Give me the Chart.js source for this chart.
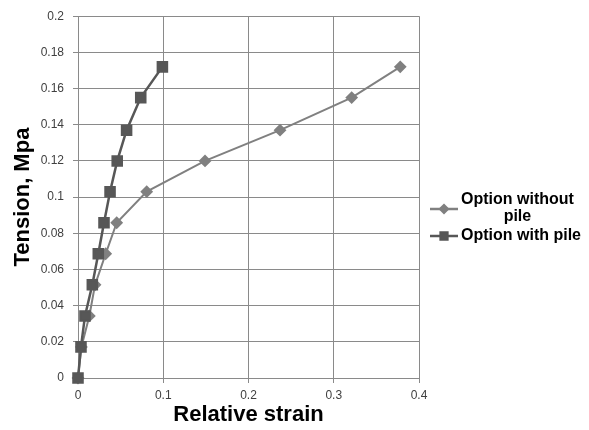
<!DOCTYPE html>
<html>
<head>
<meta charset="utf-8">
<title>Tension vs relative strain</title>
<script src="https://cdn.jsdelivr.net/npm/chart.js@4"></script>
<style>
    html, body { margin: 0; padding: 0; background: #ffffff; }
    #wrap { width: 589px; height: 430px; }
</style>
</head>
<body>
<div id="wrap"><canvas id="chart" width="589" height="430"></canvas></div>
<script>
// Values
const tension = [0, 0.0172, 0.0343, 0.0515, 0.0687, 0.0858, 0.103, 0.120, 0.137, 0.155, 0.172];
const strainWithoutPile = [0, 0.004, 0.0133, 0.020, 0.0325, 0.0454, 0.0806, 0.149, 0.237, 0.321, 0.378];
const strainWithPile = [0, 0.0035, 0.0082, 0.0168, 0.0238, 0.0305, 0.0376, 0.046, 0.057, 0.0736, 0.099];
const seriesNames = [["Option without", "pile"], ["Option with pile"]];
const xTicks = [0, 0.1, 0.2, 0.3, 0.4];
const yTicks = [0, 0.02, 0.04, 0.06, 0.08, 0.1, 0.12, 0.14, 0.16, 0.18, 0.2];

const GRID = '#8a8a8a';
const toPoints = (xs, ys) => xs.map((x, i) => ({ x: x, y: ys[i] }));

// legend drawn on the right, text wraps like the original
const sideLegend = {
    id: 'sideLegend',
    afterDraw(chart) {
        const ctx = chart.ctx;
        const rows = [
            { ds: chart.data.datasets[0], names: seriesNames[0], y: 209 },
            { ds: chart.data.datasets[1], names: seriesNames[1], y: 236 }
        ];
        ctx.save();
        ctx.font = 'bold 16px "Liberation Sans", Arial, sans-serif';
        ctx.textBaseline = 'middle';
        rows.forEach(row => {
            const ds = row.ds;
            ctx.strokeStyle = ds.borderColor;
            ctx.lineWidth = 2.5;
            ctx.beginPath();
            ctx.moveTo(430, row.y);
            ctx.lineTo(458, row.y);
            ctx.stroke();
            Chart.helpers.drawPoint(ctx, {
                pointStyle: ds.pointStyle,
                radius: ds.pointRadius * 0.75,
                rotation: 0,
                borderWidth: 1
            }, 444, row.y);
            ctx.fillStyle = ds.pointBackgroundColor;
            ctx.fill();
            ctx.fillStyle = '#000000';
            ctx.textAlign = 'left';
            ctx.fillText(row.names[0], 461, row.y - (row.names.length > 1 ? 9 : 0));
            if (row.names.length > 1) {
                const w = ctx.measureText(row.names[0]).width;
                ctx.textAlign = 'center';
                ctx.fillText(row.names[1], 461 + w / 2, row.y + 8);
            }
        });
        ctx.restore();
    }
};

new Chart(document.getElementById('chart'), {
    type: 'scatter',
    data: {
        datasets: [
            {
                label: 'Option without pile',
                data: toPoints(strainWithoutPile, tension),
                showLine: true,
                clip: false,
                borderColor: '#808080',
                backgroundColor: '#808080',
                pointBackgroundColor: '#808080',
                pointBorderColor: '#808080',
                borderWidth: 2,
                pointStyle: 'rectRot',
                pointRadius: 5,
                order: 2
            },
            {
                label: 'Option with pile',
                data: toPoints(strainWithPile, tension),
                showLine: true,
                clip: false,
                borderColor: '#575757',
                backgroundColor: '#575757',
                pointBackgroundColor: '#575757',
                pointBorderColor: '#575757',
                borderWidth: 2.5,
                pointStyle: 'rect',
                pointRadius: 6.4,
                order: 1
            }
        ]
    },
    options: {
        responsive: false,
        animation: false,
        layout: { padding: { left: 0, top: 4, right: 170, bottom: 0 } },
        plugins: {
            legend: { display: false },
            tooltip: { enabled: false }
        },
        scales: {
            x: {
                type: 'linear',
                min: 0,
                max: 0.4,
                afterFit: (scale) => { scale.height = 52; },
                afterBuildTicks: (scale) => { scale.ticks = xTicks.map(v => ({ value: v })); },
                grid: { color: GRID, lineWidth: 1, tickLength: 5 },
                border: { color: GRID, width: 1 },
                ticks: {
                    color: '#404040',
                    padding: 5,
                    font: { family: '"Liberation Sans", Arial, sans-serif', size: 12 },
                    callback: (v) => String(v)
                },
                title: {
                    display: true,
                    text: 'Relative strain',
                    color: '#000000',
                    padding: { top: 0, bottom: 2 },
                    font: { family: '"Liberation Sans", Arial, sans-serif', size: 22, weight: 'bold' }
                }
            },
            y: {
                type: 'linear',
                min: 0,
                max: 0.2,
                afterFit: (scale) => { scale.width = 78; },
                afterBuildTicks: (scale) => { scale.ticks = yTicks.map(v => ({ value: v })); },
                grid: { color: GRID, lineWidth: 1, tickLength: 5 },
                border: { color: GRID, width: 1 },
                ticks: {
                    color: '#404040',
                    padding: 9,
                    font: { family: '"Liberation Sans", Arial, sans-serif', size: 12 },
                    callback: (v) => String(v)
                },
                title: {
                    display: true,
                    text: 'Tension, Mpa',
                    color: '#000000',
                    padding: { top: 10, bottom: 0 },
                    font: { family: '"Liberation Sans", Arial, sans-serif', size: 22, weight: 'bold' }
                }
            }
        }
    },
    plugins: [sideLegend]
});
</script>
</body>
</html>
